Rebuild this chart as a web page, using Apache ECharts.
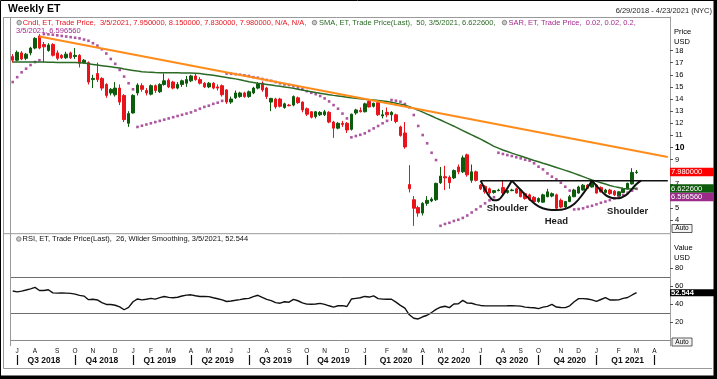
<!DOCTYPE html>
<html><head><meta charset="utf-8">
<script src="https://cdn.jsdelivr.net/npm/echarts@6/dist/echarts.min.js"></script>
<style>html,body{margin:0;padding:0;background:#fff}#c{width:717px;height:379px}</style>
</head><body><div id="c"></div>
<script>
// ---------- DATA ----------
const firstWeek = [2018, 5, 29];   // 6/29/2018 (weekly, Fridays)
const weekCount = 148;             // through 4/23/2021
const opens = [17.5,17.2,17.8,17.35,17.8,18.2,19.2,18.5,18.0,18.5,17.8,17.6,17.4,17.8,17.5,17.6,17.0,17.0,15.6,16.1,
15.7,15.2,14.5,14.35,14.9,14.3,12.0,12.85,14.5,15.1,14.7,14.4,15.1,14.6,15.2,15.55,15.4,14.9,15.2,15.3,
15.5,15.9,15.6,15.3,15.0,15.3,15.0,15.1,14.75,13.75,14.1,14.2,14.5,14.2,14.5,14.9,15.3,14.9,13.75,14.0,
14.0,13.3,13.5,13.5,14.1,13.75,13.2,12.95,12.55,12.7,12.7,12.9,12.1,11.6,12.0,12.0,11.5,12.85,13.05,12.95,
13.8,13.4,13.7,12.6,12.9,12.7,12.7,11.7,11.2,6.95,5.7,5.05,4.6,5.4,5.6,5.7,7.1,7.6,7.55,7.5,
8.4,8.0,9.4,7.3,8.0,6.9,6.8,6.6,6.3,6.45,6.7,6.3,6.45,6.6,6.5,6.2,6.1,5.9,5.55,5.5,
5.95,6.0,6.1,5.65,5.1,5.55,5.95,6.25,6.5,6.9,6.75,6.9,6.7,6.3,6.5,6.4,6.0,6.3,6.6,7.0,7.95];
const closes = [17.2,17.85,17.3,17.7,18.2,19.0,18.2,18.3,18.45,17.6,17.35,17.4,17.7,17.4,17.6,16.95,17.2,15.4,15.7,15.6,
14.9,14.3,14.8,14.9,13.75,12.3,12.8,14.3,15.15,14.8,14.5,15.1,14.7,15.2,15.5,15.0,14.9,15.2,15.5,15.6,
15.9,15.6,15.3,15.0,15.3,14.9,14.9,14.35,13.75,14.0,14.5,14.5,14.2,14.6,14.9,15.25,14.75,14.2,14.05,13.35,
13.4,13.6,13.45,14.2,13.7,13.1,12.75,12.5,12.95,12.9,12.95,12.1,11.6,12.0,11.9,11.45,12.75,13.1,12.95,13.6,
13.35,13.65,12.7,12.7,12.7,12.9,12.15,11.0,10.05,6.6,5.0,4.6,5.4,5.65,5.75,7.05,7.65,7.5,7.1,8.1,
8.0,9.15,7.75,8.0,7.3,6.6,6.35,6.25,6.45,6.5,6.25,6.45,6.5,6.25,5.95,5.8,5.7,5.55,5.8,6.1,
6.35,6.2,5.0,5.1,5.55,5.95,6.5,6.75,6.9,6.65,7.2,6.25,6.35,6.5,6.2,6.1,6.35,6.6,7.05,7.95,7.98];
const lows = [17.0,17.1,17.2,17.2,17.6,18.1,18.1,17.0,17.9,17.5,17.2,17.3,17.3,17.3,17.3,16.6,16.9,15.2,14.9,15.4,
14.7,14.1,14.3,14.2,13.5,12.1,11.7,12.8,14.3,14.6,14.3,14.3,14.5,14.5,15.1,14.9,14.8,14.8,15.0,15.0,
15.4,15.5,15.2,14.9,14.9,14.8,14.7,14.2,13.6,13.6,14.0,14.1,14.1,14.1,14.4,14.8,14.6,14.0,13.0,13.2,
13.3,13.2,13.4,13.4,13.6,12.9,12.6,12.4,12.4,12.6,12.6,12.0,10.8,11.5,11.7,11.2,11.4,12.7,12.9,12.9,
13.3,13.3,12.6,12.4,12.5,12.2,12.0,10.9,9.9,6.3,3.55,4.3,4.4,5.2,5.5,5.6,7.0,6.5,6.6,7.4,
7.8,7.9,7.6,7.1,7.2,6.5,6.2,6.1,6.2,6.4,6.1,6.2,6.4,6.2,5.9,5.7,5.6,5.5,5.45,5.45,
5.9,5.9,4.85,5.0,5.0,5.5,5.9,6.2,6.45,6.6,6.7,6.2,6.3,6.2,6.1,6.0,5.95,6.25,6.55,6.95,7.83];
const highs = [17.7,18.0,17.95,17.8,18.3,19.1,19.35,18.7,18.6,18.6,18.0,17.7,17.9,17.9,18.2,17.7,17.3,17.1,16.0,17.0,
15.8,15.3,14.9,15.4,15.2,14.4,13.0,14.4,15.3,15.3,14.9,15.2,15.2,15.3,16.1,15.7,15.5,15.4,15.6,15.9,
16.0,16.1,15.8,15.4,15.4,15.4,15.2,15.2,14.8,14.2,14.7,14.6,14.6,14.7,15.0,15.4,15.45,15.0,14.1,14.1,
14.1,13.7,13.6,14.3,14.2,13.8,13.3,13.0,13.0,13.0,13.1,13.0,12.2,12.1,12.2,12.1,12.8,13.2,13.3,13.7,
13.9,13.7,13.8,13.1,13.3,13.0,12.8,11.8,12.1,8.55,6.0,5.2,5.5,6.0,5.9,7.1,8.4,8.5,7.7,8.2,
8.6,9.35,9.5,8.6,8.1,7.0,6.9,6.7,6.5,6.6,7.3,6.5,6.6,6.7,6.6,6.3,6.2,6.0,5.9,6.2,
6.6,6.3,6.2,5.8,5.6,6.1,6.6,6.85,7.0,7.0,7.3,7.0,6.8,6.6,6.6,6.5,6.4,6.7,7.1,8.3,8.15];
const sma50 = [17.05,17.05,17.05,17.05,17.05,17.05,17.05,17.05,17.04,17.03,17.02,17.02,17.01,17.0,17.0,16.98,16.96,16.9,16.85,16.8,
16.75,16.7,16.65,16.6,16.55,16.48,16.42,16.36,16.3,16.25,16.22,16.2,16.18,16.17,16.17,16.17,16.17,16.16,16.15,16.15,
16.14,16.12,16.1,16.05,16.0,15.95,15.9,15.84,15.78,15.72,15.66,15.58,15.5,15.43,15.37,15.3,15.25,15.2,15.15,15.1,
15.06,15.0,14.94,14.88,14.81,14.74,14.67,14.6,14.53,14.47,14.42,14.36,14.3,14.25,14.2,14.15,14.1,14.06,14.02,13.98,
13.95,13.92,13.88,13.84,13.79,13.73,13.66,13.58,13.5,13.37,13.23,13.08,12.92,12.76,12.6,12.43,12.27,12.1,11.93,11.76,
11.58,11.4,11.22,11.05,10.87,10.7,10.5,10.3,10.1,9.95,9.8,9.67,9.54,9.42,9.3,9.18,9.06,8.94,8.83,8.71,
8.6,8.48,8.36,8.24,8.12,8.0,7.87,7.74,7.6,7.46,7.33,7.21,7.1,6.99,6.88,6.78,6.7,6.62,6.58,6.6,6.6226];
const sar = [15.4,15.8,16.2,16.5,16.8,17.05,17.2,19.35,19.33,19.3,19.25,19.2,19.15,19.1,19.05,19.0,18.9,18.8,18.6,18.4,
18.1,17.75,17.3,16.9,16.4,15.85,15.3,14.8,11.7,11.8,11.9,12.0,12.1,12.2,12.3,12.4,12.5,12.6,12.7,12.8,
12.9,13.05,13.2,13.35,13.45,13.6,13.7,13.85,16.1,16.08,16.05,16.0,15.95,15.9,15.8,15.75,15.65,15.57,15.5,15.4,
15.3,15.2,15.15,15.07,14.95,14.8,14.65,14.52,14.4,14.25,14.05,13.8,13.5,13.2,12.8,12.4,10.84,10.95,11.05,11.17,
11.38,11.58,11.78,12.0,12.2,13.92,13.86,13.78,13.59,13.32,12.68,11.78,11.03,10.35,9.57,8.97,3.55,3.7,3.8,3.95,
4.05,4.2,4.4,4.65,4.9,5.15,5.4,5.65,5.9,9.57,9.47,9.38,9.3,9.2,9.11,9.0,8.92,8.7,8.42,8.2,
7.87,7.6,7.38,7.1,6.77,6.45,4.9,4.93,4.99,5.12,5.2,5.32,5.45,5.55,5.67,5.81,5.95,6.09,6.28,6.45,6.59656];
const rsi26 = [54.5,53.5,54.3,55.5,56.8,58.4,55.0,55.0,55.8,52.4,52.1,52.4,52.1,51.8,51.0,49.6,48.8,44.8,45.3,44.5,
41.5,39.5,39.4,38.6,36.8,33.6,36.2,42.5,45.6,44.6,45.3,46.2,45.4,47.1,48.3,47.3,46.9,47.5,48.9,49.8,
50.2,49.1,48.4,48.3,48.2,46.9,45.8,44.5,42.8,43.4,44.1,44.9,45.8,46.2,48.2,49.7,47.3,45.2,43.7,41.5,
40.9,42.5,42.0,45.1,43.6,41.3,39.8,39.7,40.0,40.7,39.6,38.0,36.5,38.0,38.2,37.2,45.5,46.3,46.9,48.4,
47.7,49.0,46.0,45.4,45.3,45.3,42.0,38.5,35.4,28.0,24.2,23.4,25.8,27.5,30.5,34.0,36.4,37.5,36.0,40.0,
40.2,44.0,41.0,40.8,39.3,38.4,37.9,37.9,37.9,37.9,37.9,38.0,38.2,37.9,37.6,36.5,36.1,35.8,34.9,36.5,
37.4,39.6,36.6,36.1,36.0,38.0,42.5,46.0,46.0,45.6,44.6,43.0,45.0,47.0,44.5,44.4,44.6,46.3,47.2,50.0,52.544];
const trendLine = [[6, 19.16], [147, 9.22]];
const neckline = [[105, 7.27], [147, 7.27]];
const leftShoulder = [[105,7.27],[106,6.55],[107,5.95],[108,5.65],[109,5.7],[110,6.1],[111,6.65],[112,7.27]];
const headCurve = [[112,7.27],[114,6.5],[116,5.75],[118,5.15],[120,4.9],[122,4.85],[124,4.95],[126,5.35],[128,6.2],[130,7.27]];
const rightShoulder = [[130,7.27],[131,6.85],[132,6.45],[133,6.1],[134,5.9],[135,5.82],[136,5.82],[137,5.95],[138,6.2],[139,6.6],[140,7.0],[141,7.27]];
const patternLabels = [['Shoulder', 111, 5.0], ['Head', 122, 3.9], ['Shoulder', 138, 4.72]];
const priceTicks = [4,5,6,7,8,9,10,11,12,13,14,15,16,17,18];
const rsiTicks = [20,40,60,80];
const rsiBands = [70, 30];
const lastValues = {close: 7.98, sma: 6.6226, sar: 6.59656, rsi: 52.544};

// ---------- categories ----------
const weeks = [];
for (let k = 0; k < weekCount; k++) {
  const d = new Date(Date.UTC(firstWeek[0], firstWeek[1], firstWeek[2]) + k * 7 * 86400000);
  weeks.push(d.toISOString().slice(0, 10));
}
const mon = s => +s.slice(5, 7) - 1;
const yr = s => +s.slice(0, 4);
const monthStart = i => i > 0 && mon(weeks[i]) !== mon(weeks[i - 1]);
const quarterStart = i => monthStart(i) && mon(weeks[i]) % 3 === 0;
const quarterMid = i => {
  const t = Date.parse(weeks[i] + 'T00:00:00Z');
  const q0 = Date.UTC(yr(weeks[i]), Math.floor(mon(weeks[i]) / 3) * 3, 1) + 45 * 86400000;
  return t >= q0 && t - 7 * 86400000 < q0;
};
const ohlc = opens.map((o, i) => [o, closes[i], lows[i], highs[i]]);

const FONT = '"Liberation Sans", Arial, sans-serif';
const chart = echarts.init(document.getElementById('c'), null, {renderer: 'canvas'});
const L = 10.5, R = 47;

chart.setOption({
  animation: false,
  grid: [
    {left: L, right: R, top: 17, height: 216.7},
    {left: L, right: R, top: 233.7, height: 112.3}
  ],
  xAxis: [
    {type: 'category', gridIndex: 0, data: weeks, boundaryGap: true,
     axisLine: {show: false}, axisTick: {show: false}, axisLabel: {show: false}},
    {type: 'category', gridIndex: 1, data: weeks, boundaryGap: true,
     axisLine: {show: true, lineStyle: {color: '#8a8a8a', width: 1}},
     axisTick: {show: false},
     axisLabel: {interval: (i) => monthStart(i), formatter: v => 'JFMAMJJASOND'[mon(v)],
                 fontSize: 6.5, margin: 2, color: '#111', fontFamily: FONT}},
    {type: 'category', gridIndex: 1, data: weeks, boundaryGap: true, position: 'bottom', offset: 9,
     axisLine: {show: false},
     axisTick: {show: true, alignWithLabel: true, interval: (i) => quarterStart(i), length: 10,
                lineStyle: {color: '#111', width: 1.2}},
     axisLabel: {interval: (i) => quarterMid(i),
                 formatter: v => 'Q' + (Math.floor(mon(v) / 3) + 1) + ' ' + yr(v),
                 fontSize: 8.5, fontWeight: 'bold', margin: 1, color: '#111', fontFamily: FONT}}
  ],
  yAxis: [
    {type: 'value', gridIndex: 0, position: 'right', min: 2.9, max: 20.76, scale: true,
     splitLine: {show: false},
     axisLine: {show: true, lineStyle: {color: '#a0a0a0'}},
     axisTick: {show: true, customValues: priceTicks, length: 3, lineStyle: {color: '#555'}},
     axisLabel: {customValues: priceTicks, margin: 5, fontSize: 7.5, color: '#000', fontFamily: FONT,
                 formatter: v => v === 10 ? '{b|10}' : String(v),
                 rich: {b: {fontWeight: 'bold', fontSize: 8.5, fontFamily: FONT, color: '#000'}}}},
    {type: 'value', gridIndex: 1, position: 'right', min: -6.67, max: 118.1,
     splitLine: {show: false},
     axisLine: {show: true, lineStyle: {color: '#a0a0a0'}},
     axisTick: {show: true, customValues: rsiTicks, length: 3, lineStyle: {color: '#555'}},
     axisLabel: {customValues: rsiTicks, margin: 5, fontSize: 7.5, color: '#000', fontFamily: FONT}}
  ],
  series: [
    {type: 'candlestick', xAxisIndex: 0, yAxisIndex: 0, data: ohlc, barWidth: 3,
     itemStyle: {color: '#0c5c0c', color0: '#e8141c', borderColor: '#0c5c0c', borderColor0: '#e8141c', borderWidth: 1}},
    {type: 'line', xAxisIndex: 0, yAxisIndex: 0, data: sma50, showSymbol: false, symbol: 'none',
     lineStyle: {color: '#2a6a25', width: 1.5}},
    {type: 'line', xAxisIndex: 0, yAxisIndex: 0, data: trendLine, symbol: 'none',
     lineStyle: {color: '#ff8c1a', width: 2}},
    {type: 'scatter', xAxisIndex: 0, yAxisIndex: 0, data: sar, symbol: 'rect', symbolSize: 2.6,
     itemStyle: {color: '#9a2b88'}},
    {type: 'line', xAxisIndex: 0, yAxisIndex: 0, data: neckline, symbol: 'none',
     lineStyle: {color: '#111', width: 1.5},
     markPoint: {symbol: 'circle', symbolSize: 1, itemStyle: {color: 'rgba(0,0,0,0)'},
       label: {show: true, position: 'inside', formatter: '{b}', color: '#1a1a1a', fontWeight: 'bold',
               fontSize: 9.5, fontFamily: FONT},
       data: patternLabels.map(p => ({name: p[0], coord: [weeks[p[1]], p[2]]}))}},
    {type: 'line', xAxisIndex: 0, yAxisIndex: 0, data: leftShoulder, symbol: 'none', smooth: 0.4,
     lineStyle: {color: '#111', width: 2}},
    {type: 'line', xAxisIndex: 0, yAxisIndex: 0, data: headCurve, symbol: 'none', smooth: 0.4,
     lineStyle: {color: '#111', width: 2}},
    {type: 'line', xAxisIndex: 0, yAxisIndex: 0, data: rightShoulder, symbol: 'none', smooth: 0.4,
     lineStyle: {color: '#111', width: 2}},
    {type: 'line', xAxisIndex: 1, yAxisIndex: 1, data: rsi26, symbol: 'none',
     lineStyle: {color: '#111', width: 1.4},
     markLine: {symbol: 'none', silent: true, label: {show: false},
       lineStyle: {color: '#6e6e6e', type: 'solid', width: 1},
       data: rsiBands.map(v => ({yAxis: v}))}}
  ]
});

// ---------- annotations ----------
function txt(x, y, text, o) {
  return {type: 'text', x: x, y: y, silent: true, z: 100,
    style: Object.assign({text: text, fontFamily: FONT, fontSize: 7.5, fill: '#000',
      align: 'left', verticalAlign: 'middle'}, o || {})};
}
function line(x1, y1, x2, y2, c, w) {
  return {type: 'line', silent: true, z: 90, shape: {x1, y1, x2, y2}, style: {stroke: c, lineWidth: w || 1}};
}
function rect(x, y, w, h, fill, stroke) {
  return {type: 'rect', silent: true, z: 95, shape: {x, y, width: w, height: h},
    style: {fill: fill, stroke: stroke || null, lineWidth: 0.8}};
}
function icon(x, y) {
  return {type: 'circle', silent: true, z: 100, shape: {cx: x, cy: y, r: 2.3},
    style: {fill: '#c8c8c8', stroke: '#6a6a6a', lineWidth: 0.7}};
}
const yP = v => chart.convertToPixel({yAxisIndex: 0}, v);
const yR = v => chart.convertToPixel({yAxisIndex: 1}, v);
const gC = yP(lastValues.close), gS = yP(lastValues.sma), gR = yR(lastValues.rsi);
const TH = 8.4;
const G = [
  // frames
  line(3.5, 17.5, 670, 17.5, '#9a9a9a'),
  line(3.5, 17, 3.5, 368.5, '#9a9a9a'),
  line(3.5, 368.5, 712, 368.5, '#9a9a9a'),
  line(10.5, 17, 10.5, 346, '#9a9a9a'),
  line(3.5, 233.7, 670, 233.7, '#9a9a9a'),
  {type: 'rect', silent: true, z: 100, shape: {x: 0.5, y: 0.5, width: 714, height: 376},
   style: {fill: null, stroke: '#000', lineWidth: 1}},
  rect(713.5, 0, 3.5, 379, '#000'),
  rect(0, 375.5, 717, 3.5, '#000'),
  // titles
  txt(8, 9, 'Weekly ET', {fontSize: 10.5, fontWeight: 'bold'}),
  txt(712, 10.5, '6/29/2018 - 4/23/2021 (NYC)', {align: 'right', fontSize: 7.5, fill: '#222'}),
  // legends
  icon(19.2, 22.6),
  txt(22.7, 22.8, 'Cndl, ET, Trade Price,  3/5/2021, 7.950000, 8.150000, 7.830000, 7.980000, N/A, N/A,', {fill: '#e8141c'}),
  icon(314.5, 22.6),
  txt(319, 22.8, 'SMA, ET, Trade Price(Last),  50, 3/5/2021, 6.622600,', {fill: '#2a6a25'}),
  icon(504.5, 22.6),
  txt(508.5, 22.8, 'SAR, ET, Trade Price,  0.02, 0.02, 0.2,', {fill: '#a52a90'}),
  txt(16, 31.3, '3/5/2021, 6.596560', {fill: '#a52a90'}),
  icon(18.8, 239),
  txt(22.5, 239.3, 'RSI, ET, Trade Price(Last),  26, Wilder Smoothing, 3/5/2021, 52.544', {fill: '#111'}),
  // axis names
  txt(674, 31.5, 'Price'), txt(674, 41.5, 'USD'),
  txt(674, 248, 'Value'), txt(674, 257.5, 'USD'),
  // auto buttons
  rect(672, 224.5, 20, 8, '#f3f3f3', '#333'), txt(682, 228.6, 'Auto', {align: 'center', fontSize: 6.5}),
  rect(672, 338, 20, 8, '#f3f3f3', '#333'), txt(682, 342.1, 'Auto', {align: 'center', fontSize: 6.5}),
  // last-value tags
  rect(670, gC - TH / 2, 44, TH, '#ff0000'), txt(671, gC, '7.980000', {fill: '#fff'}),
  rect(670, gS - TH / 2, 44, TH, '#0c5c0c'), txt(671, gS, '6.622600', {fill: '#fff'}),
  rect(670, gS + TH / 2, 44, TH, '#9a2b88'), txt(671, gS + TH, '6.596560', {fill: '#fff'}),
  rect(670, gR - 3.5, 44, 7, '#000'), txt(671, gR, '52.544', {fill: '#fff', fontWeight: 'bold'})
];
chart.setOption({graphic: {elements: G}});
</script></body></html>
